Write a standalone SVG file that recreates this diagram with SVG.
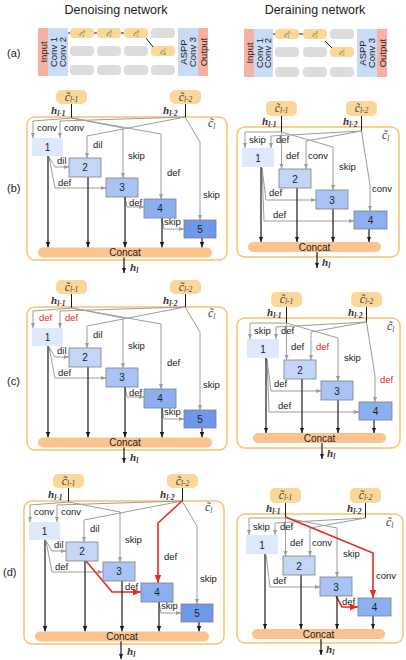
<svg xmlns="http://www.w3.org/2000/svg" width="406" height="660" viewBox="0 0 406 660">
<defs>
<style>
.g{fill:none;stroke:#9c9c9c;stroke-width:1;marker-end:url(#ag)}
.k{fill:none;stroke:#1a1a1a;stroke-width:1.2;marker-end:url(#ak)}
.s{fill:none;stroke:#1a1a1a;stroke-width:1}
.r{fill:none;stroke:#e8291c;stroke-width:1.6;marker-end:url(#ar)}
.lb{font-family:"Liberation Sans",Arial,sans-serif;font-size:9.5px;fill:#222}
.lr{font-family:"Liberation Sans",Arial,sans-serif;font-size:9.5px;fill:#e8291c}
.nt{font-family:"Liberation Sans",Arial,sans-serif;font-size:10px;fill:#222;text-anchor:middle}
.tt{font-family:"Liberation Sans",Arial,sans-serif;font-size:12.5px;fill:#222;text-anchor:middle}
.pl{font-family:"Liberation Sans",Arial,sans-serif;font-size:11px;fill:#222}
.rt{font-family:"Liberation Sans",Arial,sans-serif;font-size:9.5px;fill:#222;text-anchor:middle}
.h{font-family:"Liberation Serif","DejaVu Serif",serif;font-style:italic;font-weight:bold;font-size:11px;fill:#333}
.ct{font-family:"Liberation Serif","DejaVu Serif",serif;font-style:italic;font-size:12px;fill:#444}
.cm{text-anchor:middle}
.sub{font-size:7.5px}
.cl{font-family:"Liberation Serif","DejaVu Serif",serif;font-style:italic;font-size:7px;fill:#555;text-anchor:middle}
.cb{fill:#fcd898}
.gc{fill:#dcdcdc}
.ob{fill:none;stroke:#f9c46a;stroke-width:1.5}
.cc{fill:#fcc38e}
.n1{fill:#dfe9fc}
.n2{fill:#c3d6f7;stroke:#7f7f7f;stroke-width:0.8}
.n3{fill:#a8c3f4;stroke:#7f7f7f;stroke-width:0.8}
.n4{fill:#8cafef;stroke:#7f7f7f;stroke-width:0.8}
.n5{fill:#6d98ec;stroke:#7f7f7f;stroke-width:0.8}
.io{fill:#f6b2a2}
.cv{fill:#c8dbf8}
</style>
<marker id="ag" viewBox="0 0 10 10" refX="10" refY="5" markerWidth="5.5" markerHeight="5.5" markerUnits="userSpaceOnUse" orient="auto"><path d="M0,1 L10,5 L0,9 z" fill="#9c9c9c"/></marker>
<marker id="ak" viewBox="0 0 10 10" refX="10" refY="5" markerWidth="5.5" markerHeight="5.5" markerUnits="userSpaceOnUse" orient="auto"><path d="M0,1 L10,5 L0,9 z" fill="#1a1a1a"/></marker>
<marker id="ar" viewBox="0 0 10 10" refX="10" refY="5" markerWidth="8" markerHeight="8" markerUnits="userSpaceOnUse" orient="auto"><path d="M0,1 L10,5 L0,9 z" fill="#e8291c"/></marker>
</defs>
<rect width="406" height="660" fill="#ffffff"/>

<!-- titles and panel labels -->
<text class="tt" x="116" y="14">Denoising network</text>
<text class="tt" x="315" y="14">Deraining network</text>
<text class="pl" x="7" y="57">(a)</text>
<text class="pl" x="7" y="192">(b)</text>
<text class="pl" x="7" y="385">(c)</text>
<text class="pl" x="3" y="576">(d)</text>

<!-- (a) left -->
<g id="a-left">
<rect class="io" x="38" y="28" width="10" height="48"/>
<rect class="cv" x="48" y="28" width="20" height="48"/>
<rect class="cv" x="178" y="28" width="20" height="48"/>
<rect class="io" x="198" y="28" width="10" height="48"/>
<text class="rt" transform="translate(46.5,52) rotate(-90)">Input</text>
<text class="rt" transform="translate(57,52) rotate(-90)">Conv 1</text>
<text class="rt" transform="translate(66,52) rotate(-90)">Conv 2</text>
<text class="rt" transform="translate(187,52) rotate(-90)">ASPP</text>
<text class="rt" transform="translate(196,52) rotate(-90)">Conv 3</text>
<text class="rt" transform="translate(206.5,52) rotate(-90)">Output</text>
<rect class="cb" x="70" y="28" width="24" height="10" rx="4"/>
<rect class="cb" x="97" y="28" width="24" height="10" rx="4"/>
<rect class="cb" x="124" y="28" width="24" height="10" rx="4"/>
<rect class="gc" x="151" y="28" width="24" height="10" rx="4"/>
<rect class="gc" x="70" y="46" width="24" height="10" rx="4"/>
<rect class="gc" x="97" y="46" width="24" height="10" rx="4"/>
<rect class="gc" x="124" y="46" width="24" height="10" rx="4"/>
<rect class="cb" x="151" y="46" width="24" height="10" rx="4"/>
<rect class="gc" x="70" y="65" width="24" height="10" rx="4"/>
<rect class="gc" x="97" y="65" width="24" height="10" rx="4"/>
<rect class="gc" x="124" y="65" width="24" height="10" rx="4"/>
<rect class="gc" x="151" y="65" width="24" height="10" rx="4"/>
<path class="s" d="M68,33 H70 M94,33 H97 M121,33 H124 M146,38 L153,47"/>
<text class="cl" x="82" y="35.5">c̃<tspan font-size="4.5" dy="-3">0</tspan><tspan font-size="4.5" dx="-2.5" dy="4.5">1</tspan></text>
<text class="cl" x="109" y="35.5">c̃<tspan font-size="4.5" dy="-3">0</tspan><tspan font-size="4.5" dx="-2.5" dy="4.5">2</tspan></text>
<text class="cl" x="136" y="35.5">c̃<tspan font-size="4.5" dy="-3">0</tspan><tspan font-size="4.5" dx="-2.5" dy="4.5">3</tspan></text>
<text class="cl" x="163" y="53.5">c̃<tspan font-size="4.5" dy="-3">1</tspan><tspan font-size="4.5" dx="-2.5" dy="4.5">4</tspan></text>
</g>

<!-- (a) right -->
<g id="a-right">
<rect class="io" x="244" y="29" width="10" height="48"/>
<rect class="cv" x="254" y="29" width="19" height="48"/>
<rect class="cv" x="357" y="29" width="20" height="48"/>
<rect class="io" x="377" y="29" width="10" height="48"/>
<text class="rt" transform="translate(252.5,53) rotate(-90)">Input</text>
<text class="rt" transform="translate(262.5,53) rotate(-90)">Conv 1</text>
<text class="rt" transform="translate(271,53) rotate(-90)">Conv 2</text>
<text class="rt" transform="translate(366,53) rotate(-90)">ASPP</text>
<text class="rt" transform="translate(375,53) rotate(-90)">Conv 3</text>
<text class="rt" transform="translate(385.5,53) rotate(-90)">Output</text>
<rect class="cb" x="275" y="29" width="24" height="10" rx="4"/>
<rect class="cb" x="303" y="29" width="24" height="10" rx="4"/>
<rect class="gc" x="330" y="29" width="24" height="10" rx="4"/>
<rect class="gc" x="275" y="47" width="24" height="10" rx="4"/>
<rect class="gc" x="303" y="47" width="24" height="10" rx="4"/>
<rect class="cb" x="330" y="47" width="24" height="10" rx="4"/>
<rect class="gc" x="275" y="67" width="24" height="10" rx="4"/>
<rect class="gc" x="303" y="67" width="24" height="10" rx="4"/>
<rect class="gc" x="330" y="67" width="24" height="10" rx="4"/>
<path class="s" d="M273,34 H275 M299,34 H303 M325,41 L332,48"/>
<text class="cl" x="287" y="36.5">c̃<tspan font-size="4.5" dy="-3">0</tspan><tspan font-size="4.5" dx="-2.5" dy="4.5">1</tspan></text>
<text class="cl" x="315" y="36.5">c̃<tspan font-size="4.5" dy="-3">0</tspan><tspan font-size="4.5" dx="-2.5" dy="4.5">2</tspan></text>
<text class="cl" x="342" y="54.5">c̃<tspan font-size="4.5" dy="-3">1</tspan><tspan font-size="4.5" dx="-2.5" dy="4.5">3</tspan></text>
</g>

<!-- (b) left -->
<g id="b-left">
<rect class="ob" x="27" y="117" width="200" height="143" rx="8"/>
<text class="ct" x="208" y="127">c̃<tspan class="sub" dy="1.5">l</tspan></text>
<g id="bl-connectors">
<path class="s" d="M71.5,104 V118 M185.5,104 V117"/>
<path class="g" d="M72,118 L33,121 V138"/>
<path class="g" d="M185,117 L60,121 V138"/>
<path class="g" d="M185,117 L87,136 V158"/>
<path class="g" d="M72,118 L123,128 V178"/>
<path class="g" d="M72,118 L161,134 V199"/>
<path class="g" d="M185,117 L200,142 V220"/>
<path class="g" d="M49,157 L55,167 H69"/>
<path class="g" d="M49,157 L55,188 H106"/>
<path class="g" d="M125,197 L127,207 H144"/>
<path class="g" d="M162,218 L164,229 H184"/>
<path class="k" d="M48,156 V247.5"/>
<path class="k" d="M88,177 V247.5"/>
<path class="k" d="M125,197 V247.5"/>
<path class="k" d="M162,218 V247.5"/>
<path class="k" d="M202,238 V247.5"/>
<path class="k" d="M124,257 V273"/>
</g>
<text class="lb" x="37" y="131">conv</text>
<text class="lb" x="64" y="131">conv</text>
<text class="lb" x="93" y="148">dil</text>
<text class="lb" x="128" y="159">skip</text>
<text class="lb" x="167" y="176">def</text>
<text class="lb" x="203" y="198">skip</text>
<text class="lb" x="57" y="164">dil</text>
<text class="lb" x="58" y="186">def</text>
<text class="lb" x="129" y="206">def</text>
<text class="lb" x="164" y="225">skip</text>
<g id="bl-cprev1"><rect class="cb" x="56" y="90" width="31" height="14" rx="5"/><text class="ct cm" x="71.5" y="100.5">c̃<tspan class="sub" dy="1.5">l-1</tspan></text></g>
<g id="bl-cprev2"><rect class="cb" x="170" y="90" width="31" height="14" rx="5"/><text class="ct cm" x="185.5" y="100.5">c̃<tspan class="sub" dy="1.5">l-2</tspan></text></g>
<text class="h" x="51" y="114">h<tspan class="sub" dy="2">l-1</tspan></text>
<text class="h" x="163" y="114">h<tspan class="sub" dy="2">l-2</tspan></text>
<g id="bl-n1"><rect class="n1" x="32" y="138" width="31" height="18"/><text class="nt" x="47.5" y="150.5">1</text></g>
<g id="bl-n2"><rect class="n2" x="69" y="158" width="32" height="19"/><text class="nt" x="85" y="171">2</text></g>
<g id="bl-n3"><rect class="n3" x="106" y="178" width="32" height="19"/><text class="nt" x="122" y="191">3</text></g>
<g id="bl-n4"><rect class="n4" x="144" y="199" width="32" height="19"/><text class="nt" x="160" y="212">4</text></g>
<g id="bl-n5"><rect class="n5" x="184" y="220" width="32" height="18"/><text class="nt" x="200" y="232.5">5</text></g>
<g id="bl-concat"><rect class="cc" x="38" y="247.5" width="174" height="10" rx="5"/><text class="nt" x="125" y="256">Concat</text></g>
<text class="h" x="130" y="271">h<tspan class="sub" dy="2">l</tspan></text>
</g>

<!-- (c) left -->
<g id="c-left" transform="translate(0,190)">
<rect class="ob" x="27" y="117" width="200" height="143" rx="8"/>
<text class="ct" x="208" y="127">c̃<tspan class="sub" dy="1.5">l</tspan></text>
<g id="cl-connectors">
<path class="s" d="M71.5,104 V118 M185.5,104 V117"/>
<path class="g" d="M72,118 L33,121 V138"/>
<path class="g" d="M185,117 L60,121 V138"/>
<path class="g" d="M185,117 L87,136 V158"/>
<path class="g" d="M72,118 L123,128 V178"/>
<path class="g" d="M72,118 L161,134 V199"/>
<path class="g" d="M185,117 L200,142 V220"/>
<path class="g" d="M49,157 L55,167 H69"/>
<path class="g" d="M49,157 L55,188 H106"/>
<path class="g" d="M125,197 L127,207 H144"/>
<path class="g" d="M162,218 L164,229 H184"/>
<path class="k" d="M48,156 V247.5"/>
<path class="k" d="M88,177 V247.5"/>
<path class="k" d="M125,197 V247.5"/>
<path class="k" d="M162,218 V247.5"/>
<path class="k" d="M202,238 V247.5"/>
<path class="k" d="M124,257 V273"/>
</g>
<text class="lr" x="39" y="131">def</text>
<text class="lr" x="65" y="131">def</text>
<text class="lb" x="93" y="148">dil</text>
<text class="lb" x="128" y="159">skip</text>
<text class="lb" x="167" y="176">def</text>
<text class="lb" x="203" y="198">skip</text>
<text class="lb" x="57" y="164">dil</text>
<text class="lb" x="58" y="186">def</text>
<text class="lb" x="129" y="206">def</text>
<text class="lb" x="164" y="225">skip</text>
<g id="cl-cprev1"><rect class="cb" x="56" y="90" width="31" height="14" rx="5"/><text class="ct cm" x="71.5" y="100.5">c̃<tspan class="sub" dy="1.5">l-1</tspan></text></g>
<g id="cl-cprev2"><rect class="cb" x="170" y="90" width="31" height="14" rx="5"/><text class="ct cm" x="185.5" y="100.5">c̃<tspan class="sub" dy="1.5">l-2</tspan></text></g>
<text class="h" x="51" y="114">h<tspan class="sub" dy="2">l-1</tspan></text>
<text class="h" x="163" y="114">h<tspan class="sub" dy="2">l-2</tspan></text>
<g id="cl-n1"><rect class="n1" x="32" y="138" width="31" height="18"/><text class="nt" x="47.5" y="150.5">1</text></g>
<g id="cl-n2"><rect class="n2" x="69" y="158" width="32" height="19"/><text class="nt" x="85" y="171">2</text></g>
<g id="cl-n3"><rect class="n3" x="106" y="178" width="32" height="19"/><text class="nt" x="122" y="191">3</text></g>
<g id="cl-n4"><rect class="n4" x="144" y="199" width="32" height="19"/><text class="nt" x="160" y="212">4</text></g>
<g id="cl-n5"><rect class="n5" x="184" y="220" width="32" height="18"/><text class="nt" x="200" y="232.5">5</text></g>
<g id="cl-concat"><rect class="cc" x="38" y="247.5" width="174" height="10" rx="5"/><text class="nt" x="125" y="256">Concat</text></g>
<text class="h" x="130" y="271">h<tspan class="sub" dy="2">l</tspan></text>
</g>

<!-- (d) left -->
<g id="d-left" transform="translate(-3,384)">
<rect class="ob" x="27" y="117" width="200" height="143" rx="8"/>
<text class="ct" x="208" y="127">c̃<tspan class="sub" dy="1.5">l</tspan></text>
<g id="dl-connectors">
<path class="s" d="M71.5,104 V118 M185.5,104 V117"/>
<path class="g" d="M72,118 L33,121 V138"/>
<path class="g" d="M185,117 L60,121 V138"/>
<path class="g" d="M185,117 L87,136 V158"/>
<path class="g" d="M72,118 L123,128 V178"/>
<path class="g" d="M185,117 L200,142 V220"/>
<path class="g" d="M49,157 L55,167 H69"/>
<path class="g" d="M49,157 L55,188 H106"/>
<path class="g" d="M162,218 L164,229 H184"/>
<path class="r" d="M185,117 L161,139 V199"/>
<path class="r" d="M89,177 L115,208 H144"/>
<path class="k" d="M48,156 V247.5"/>
<path class="k" d="M88,177 V247.5"/>
<path class="k" d="M125,197 V247.5"/>
<path class="k" d="M162,218 V247.5"/>
<path class="k" d="M202,238 V247.5"/>
<path class="k" d="M124,257 V275"/>
</g>
<text class="lb" x="37" y="131">conv</text>
<text class="lb" x="64" y="131">conv</text>
<text class="lb" x="93" y="148">dil</text>
<text class="lb" x="128" y="159">skip</text>
<text class="lb" x="167" y="176">def</text>
<text class="lb" x="203" y="198">skip</text>
<text class="lb" x="57" y="164">dil</text>
<text class="lb" x="58" y="186">def</text>
<text class="lb" x="128" y="205.5">def</text>
<text class="lb" x="164" y="225">skip</text>
<g id="dl-cprev1"><rect class="cb" x="56" y="90" width="31" height="14" rx="5"/><text class="ct cm" x="71.5" y="100.5">c̃<tspan class="sub" dy="1.5">l-1</tspan></text></g>
<g id="dl-cprev2"><rect class="cb" x="170" y="90" width="31" height="14" rx="5"/><text class="ct cm" x="185.5" y="100.5">c̃<tspan class="sub" dy="1.5">l-2</tspan></text></g>
<text class="h" x="51" y="114">h<tspan class="sub" dy="2">l-1</tspan></text>
<text class="h" x="163" y="114">h<tspan class="sub" dy="2">l-2</tspan></text>
<g id="dl-n1"><rect class="n1" x="32" y="138" width="31" height="18"/><text class="nt" x="47.5" y="150.5">1</text></g>
<g id="dl-n2"><rect class="n2" x="69" y="158" width="32" height="19"/><text class="nt" x="85" y="171">2</text></g>
<g id="dl-n3"><rect class="n3" x="106" y="178" width="32" height="19"/><text class="nt" x="122" y="191">3</text></g>
<g id="dl-n4"><rect class="n4" x="144" y="199" width="32" height="19"/><text class="nt" x="160" y="212">4</text></g>
<g id="dl-n5"><rect class="n5" x="184" y="220" width="32" height="18"/><text class="nt" x="200" y="232.5">5</text></g>
<g id="dl-concat"><rect class="cc" x="38" y="247.5" width="174" height="10" rx="5"/><text class="nt" x="125" y="256">Concat</text></g>
<text class="h" x="130" y="271">h<tspan class="sub" dy="2">l</tspan></text>
</g>

<!-- (b) right -->
<rect class="ob" x="237" y="127" width="162" height="130" rx="8"/>
<g id="b-right">
<text class="ct" x="382" y="139">c̃<tspan class="sub" dy="1.5">l</tspan></text>
<g id="br-connectors">
<path class="s" d="M281.5,116 V132 M361.5,116 V131"/>
<path class="g" d="M281.5,132 L245,132 V148"/>
<path class="g" d="M281.5,132 V169"/>
<path class="g" d="M281.5,132 L333,147 V190"/>
<path class="g" d="M361.5,131 L271,136 V148"/>
<path class="g" d="M361.5,131 L306,141 V169"/>
<path class="g" d="M361.5,131 L370,185 V211"/>
<path class="g" d="M262,168 L266,200 H316"/>
<path class="g" d="M262,168 L264,221 H354"/>
<path class="k" d="M261,167 V242"/>
<path class="k" d="M297,188 V242"/>
<path class="k" d="M333,209 V242"/>
<path class="k" d="M369,229 V242"/>
<path class="k" d="M317,252 V268"/>
</g>
<text class="lb" x="249" y="143">skip</text>
<text class="lb" x="276" y="143">def</text>
<text class="lb" x="286" y="159">def</text>
<text class="lb" x="308" y="159">conv</text>
<text class="lb" x="339" y="170">skip</text>
<text class="lb" x="372" y="192">conv</text>
<text class="lb" x="269" y="196">def</text>
<text class="lb" x="273" y="218">def</text>
<g id="br-cprev1"><rect class="cb" x="266" y="101" width="31" height="15" rx="5"/><text class="ct cm" x="281.5" y="111.5">c̃<tspan class="sub" dy="1.5">l-1</tspan></text></g>
<g id="br-cprev2"><rect class="cb" x="346" y="101" width="31" height="15" rx="5"/><text class="ct cm" x="361.5" y="111.5">c̃<tspan class="sub" dy="1.5">l-2</tspan></text></g>
<text class="h" x="262" y="125">h<tspan class="sub" dy="2">l-1</tspan></text>
<text class="h" x="343" y="125">h<tspan class="sub" dy="2">l-2</tspan></text>
<g id="br-n1"><rect class="n1" x="242" y="148" width="32" height="19"/><text class="nt" x="258" y="161.5">1</text></g>
<g id="br-n2"><rect class="n2" x="279" y="169" width="32" height="19"/><text class="nt" x="295" y="182.5">2</text></g>
<g id="br-n3"><rect class="n3" x="316" y="190" width="32" height="19"/><text class="nt" x="332" y="203.5">3</text></g>
<g id="br-n4"><rect class="n4" x="354" y="211" width="33" height="18"/><text class="nt" x="370.5" y="224">4</text></g>
<g id="br-concat"><rect class="cc" x="248" y="242" width="133" height="10" rx="5"/><text class="nt" x="314.5" y="250.5">Concat</text></g>
<text class="h" x="322" y="266">h<tspan class="sub" dy="2">l</tspan></text>
</g>

<!-- (c) right -->
<rect class="ob" x="237" y="318" width="163" height="130" rx="8"/>
<g id="c-right" transform="translate(5,191)">
<text class="ct" x="382" y="139">c̃<tspan class="sub" dy="1.5">l</tspan></text>
<g id="cr-connectors">
<path class="s" d="M281.5,116 V132 M361.5,116 V131"/>
<path class="g" d="M281.5,132 L245,132 V148"/>
<path class="g" d="M281.5,132 V169"/>
<path class="g" d="M281.5,132 L333,147 V190"/>
<path class="g" d="M361.5,131 L271,136 V148"/>
<path class="g" d="M361.5,131 L306,141 V169"/>
<path class="g" d="M361.5,131 L370,185 V211"/>
<path class="g" d="M262,168 L266,200 H316"/>
<path class="g" d="M262,168 L264,221 H354"/>
<path class="k" d="M261,167 V242"/>
<path class="k" d="M297,188 V242"/>
<path class="k" d="M333,209 V242"/>
<path class="k" d="M369,229 V242"/>
<path class="k" d="M317,252 V268"/>
</g>
<text class="lb" x="249" y="143">skip</text>
<text class="lb" x="276" y="143">def</text>
<text class="lb" x="286" y="159">def</text>
<text class="lr" x="311" y="159">def</text>
<text class="lb" x="339" y="170">skip</text>
<text class="lr" x="375" y="192">def</text>
<text class="lb" x="269" y="196">def</text>
<text class="lb" x="273" y="218">def</text>
<g id="cr-cprev1"><rect class="cb" x="266" y="101" width="31" height="15" rx="5"/><text class="ct cm" x="281.5" y="111.5">c̃<tspan class="sub" dy="1.5">l-1</tspan></text></g>
<g id="cr-cprev2"><rect class="cb" x="346" y="101" width="31" height="15" rx="5"/><text class="ct cm" x="361.5" y="111.5">c̃<tspan class="sub" dy="1.5">l-2</tspan></text></g>
<text class="h" x="262" y="125">h<tspan class="sub" dy="2">l-1</tspan></text>
<text class="h" x="343" y="125">h<tspan class="sub" dy="2">l-2</tspan></text>
<g id="cr-n1"><rect class="n1" x="242" y="148" width="32" height="19"/><text class="nt" x="258" y="161.5">1</text></g>
<g id="cr-n2"><rect class="n2" x="279" y="169" width="32" height="19"/><text class="nt" x="295" y="182.5">2</text></g>
<g id="cr-n3"><rect class="n3" x="316" y="190" width="32" height="19"/><text class="nt" x="332" y="203.5">3</text></g>
<g id="cr-n4"><rect class="n4" x="354" y="211" width="33" height="18"/><text class="nt" x="370.5" y="224">4</text></g>
<g id="cr-concat"><rect class="cc" x="248" y="242" width="133" height="10" rx="5"/><text class="nt" x="314.5" y="250.5">Concat</text></g>
<text class="h" x="322" y="266">h<tspan class="sub" dy="2">l</tspan></text>
</g>

<!-- (d) right -->
<rect class="ob" x="237" y="514" width="166" height="129" rx="8"/>
<g id="d-right" transform="translate(4,387)">
<text class="ct" x="382" y="139">c̃<tspan class="sub" dy="1.5">l</tspan></text>
<g id="dr-connectors">
<path class="s" d="M281.5,116 V130 M361.5,116 V131"/>
<path class="g" d="M281.5,131 L245,131 V148"/>
<path class="g" d="M281.5,131 V169"/>
<path class="g" d="M281.5,131 L333,141 V190"/>
<path class="g" d="M361.5,131 L271,136 V148"/>
<path class="g" d="M361.5,131 L306,141 V169"/>
<path class="g" d="M262,168 L266,200 H316"/>
<path class="r" d="M281.5,130 L369,166 V211"/>
<path class="r" d="M332,209 L338,220 H354"/>
<path class="k" d="M261,167 V242"/>
<path class="k" d="M297,188 V242"/>
<path class="k" d="M333,209 V242"/>
<path class="k" d="M369,229 V242"/>
<path class="k" d="M317,252 V268"/>
</g>
<text class="lb" x="249" y="143">skip</text>
<text class="lb" x="276" y="143">def</text>
<text class="lb" x="286" y="159">def</text>
<text class="lb" x="308" y="159">conv</text>
<text class="lb" x="339" y="170">skip</text>
<text class="lb" x="372" y="192">conv</text>
<text class="lb" x="269" y="197">def</text>
<text class="lb" x="338" y="217.5">def</text>
<g id="dr-cprev1"><rect class="cb" x="266" y="101" width="31" height="15" rx="5"/><text class="ct cm" x="281.5" y="111.5">c̃<tspan class="sub" dy="1.5">l-1</tspan></text></g>
<g id="dr-cprev2"><rect class="cb" x="346" y="101" width="31" height="15" rx="5"/><text class="ct cm" x="361.5" y="111.5">c̃<tspan class="sub" dy="1.5">l-2</tspan></text></g>
<text class="h" x="262" y="125">h<tspan class="sub" dy="2">l-1</tspan></text>
<text class="h" x="343" y="125">h<tspan class="sub" dy="2">l-2</tspan></text>
<g id="dr-n1"><rect class="n1" x="242" y="148" width="32" height="19"/><text class="nt" x="258" y="161.5">1</text></g>
<g id="dr-n2"><rect class="n2" x="279" y="169" width="32" height="19"/><text class="nt" x="295" y="182.5">2</text></g>
<g id="dr-n3"><rect class="n3" x="316" y="190" width="32" height="19"/><text class="nt" x="332" y="203.5">3</text></g>
<g id="dr-n4"><rect class="n4" x="354" y="211" width="33" height="18"/><text class="nt" x="370.5" y="224">4</text></g>
<g id="dr-concat"><rect class="cc" x="248" y="242" width="133" height="10" rx="5"/><text class="nt" x="314.5" y="250.5">Concat</text></g>
<text class="h" x="322" y="266">h<tspan class="sub" dy="2">l</tspan></text>
</g>
</svg>
